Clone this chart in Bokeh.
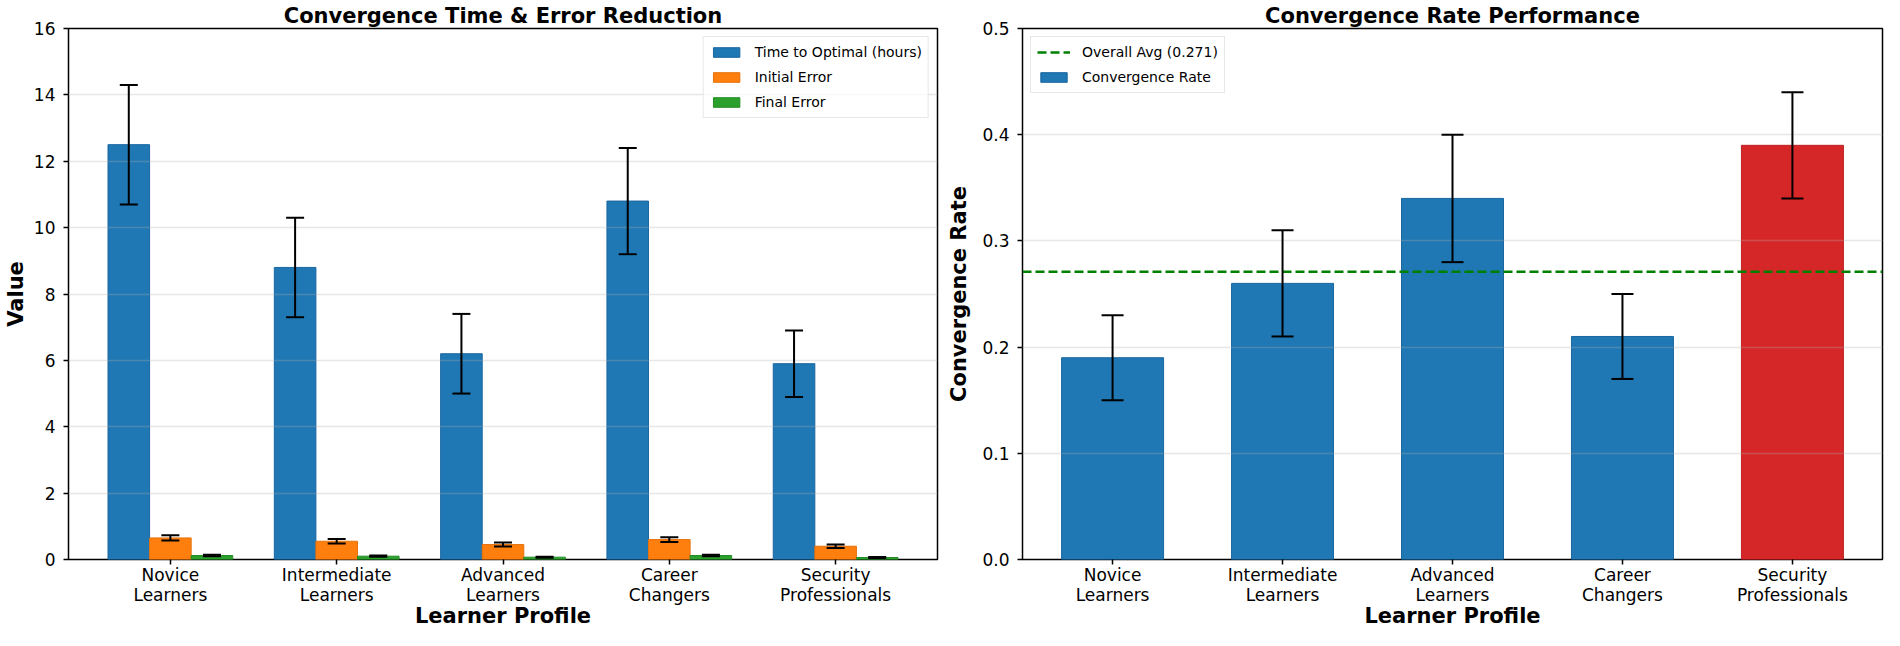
import numpy as np
from bokeh.plotting import figure
from bokeh.layouts import row
from bokeh.models import (ColumnDataSource, Whisker, TeeHead, FixedTicker, Range1d,
                          Legend, LegendItem, CustomJSTickFormatter)
from bokeh.embed import file_html
from bokeh.resources import INLINE

# ---- data ----
profiles = ["Novice\nLearners", "Intermediate\nLearners", "Advanced\nLearners",
            "Career\nChangers", "Security\nProfessionals"]
time_opt = [12.5, 8.8, 6.2, 10.8, 5.9]
time_err = [1.8, 1.5, 1.2, 1.6, 1.0]
initial_err_val = [0.65, 0.55, 0.45, 0.60, 0.40]
initial_err_sd = [0.08, 0.07, 0.06, 0.07, 0.05]
final_err_val = [0.12, 0.10, 0.07, 0.12, 0.06]
final_err_sd = [0.02, 0.02, 0.015, 0.02, 0.015]
conv_rate = [0.19, 0.26, 0.34, 0.21, 0.39]
conv_rate_err = [0.04, 0.05, 0.06, 0.04, 0.05]
overall_avg = 0.271
left_yticks = [0, 2, 4, 6, 8, 10, 12, 14, 16]
right_yticks = [0.0, 0.1, 0.2, 0.3, 0.4, 0.5]

FONT = "DejaVu Sans"
BLUE, ORANGE, GREEN, RED = "#1f77b4", "#ff7f0e", "#2ca02c", "#d62728"
EDGE = {BLUE: "#1a66a0", ORANGE: "#e5720c", GREEN: "#268c26", RED: "#bf2022"}

idx = np.arange(len(profiles))


def style(p, yticks, ylabel, ylabel_standoff):
    p.title.text_font = FONT
    p.title.text_font_size = "21px"
    p.title.text_font_style = "bold"
    p.title.text_color = "black"
    p.title.align = "center"
    p.title.offset = 0
    p.title.standoff = 2
    p.outline_line_color = "black"
    p.outline_line_width = 1.5
    p.outline_line_alpha = 1
    for ax in (p.xaxis[0], p.yaxis[0]):
        ax.axis_line_color = None
        ax.major_tick_line_color = "black"
        ax.major_tick_line_width = 1.5
        ax.major_tick_out = 5
        ax.major_tick_in = 0
        ax.minor_tick_line_color = None
        ax.major_label_text_font = FONT
        ax.major_label_text_font_size = "17px"
        ax.major_label_text_color = "black"
        ax.axis_label_text_font = FONT
        ax.axis_label_text_font_size = "21px"
        ax.axis_label_text_font_style = "bold"
        ax.axis_label_text_color = "black"
    p.xaxis.ticker = FixedTicker(ticks=list(idx))
    p.xaxis.major_label_overrides = {int(i): lab for i, lab in zip(idx, profiles)}
    p.xaxis.major_label_text_line_height = 1.0
    p.xaxis.axis_label = "Learner Profile"
    p.xaxis.axis_label_standoff = -4
    p.xaxis.major_label_standoff = 0
    p.yaxis.ticker = FixedTicker(ticks=yticks)
    p.yaxis.axis_label = ylabel
    p.yaxis.axis_label_standoff = ylabel_standoff
    p.yaxis.major_label_standoff = 8
    p.xgrid.grid_line_color = None
    p.ygrid.grid_line_color = "#b0b0b0"
    p.ygrid.grid_line_alpha = 0.3
    p.ygrid.grid_line_width = 1.5
    p.ygrid.level = "overlay"
    p.background_fill_color = "white"
    p.border_fill_color = "white"


def add_err(p, x, y, e, size):
    y = np.array(y, dtype=float)
    e = np.array(e, dtype=float)
    src = ColumnDataSource(dict(base=x, upper=y + e, lower=y - e))
    w = Whisker(source=src, base="base", upper="upper", lower="lower",
                line_color="black", line_width=2,
                upper_head=TeeHead(size=size, line_width=2, line_color="black"),
                lower_head=TeeHead(size=size, line_width=2, line_color="black"))
    w.level = "overlay"
    p.add_layout(w)


# ---- left chart ----
bw = 0.25
p1 = figure(width=940, height=630, output_backend="svg", toolbar_location=None,
            title="Convergence Time & Error Reduction",
            x_range=Range1d(-0.6125, 4.6125), y_range=Range1d(0, 16),
            min_border_left=60, min_border_right=3, min_border_top=20, min_border_bottom=30)
style(p1, left_yticks, "Value", 3)
p1.yaxis.formatter = CustomJSTickFormatter(code="return tick.toFixed(0);")

series = [(time_opt, time_err, BLUE, -bw, "Time to Optimal (hours)"),
          (initial_err_val, initial_err_sd, ORANGE, 0.0, "Initial Error"),
          (final_err_val, final_err_sd, GREEN, bw, "Final Error")]
items1 = []
for vals, errs, col, off, lab in series:
    xs = idx + off
    r = p1.vbar(x=xs, top=vals, width=bw, bottom=0, fill_color=col,
                line_color=EDGE[col], line_width=1)
    add_err(p1, xs, vals, errs, 18)
    items1.append(LegendItem(label=lab, renderers=[r]))

leg1 = Legend(items=items1, location="top_right")
p1.add_layout(leg1)

# ---- right chart ----
p2 = figure(width=944, height=630, output_backend="svg", toolbar_location=None,
            title="Convergence Rate Performance",
            x_range=Range1d(-0.53, 4.53), y_range=Range1d(0, 0.5),
            min_border_left=82, min_border_right=2, min_border_top=20, min_border_bottom=30)
style(p2, right_yticks, "Convergence Rate", 8)
p2.yaxis.formatter = CustomJSTickFormatter(code="return tick.toFixed(1);")

colors = [BLUE, BLUE, BLUE, BLUE, RED]
src2 = ColumnDataSource(dict(x=idx, top=conv_rate, fc=colors, lc=[EDGE[c] for c in colors]))
r2 = p2.vbar(x="x", top="top", width=0.6, bottom=0, fill_color="fc", line_color="lc",
             line_width=1, source=src2)
add_err(p2, idx, conv_rate, conv_rate_err, 22)

avg_src = ColumnDataSource(dict(x=[-0.53, 4.53], y=[overall_avg, overall_avg]))
r_avg = p2.line(x="x", y="y", source=avg_src, line_color="#008000", line_width=2.5,
                line_dash="9 4")

leg2 = Legend(items=[LegendItem(label=f"Overall Avg ({overall_avg})", renderers=[r_avg]),
                     LegendItem(label="Convergence Rate", renderers=[r2], index=0)],
              location="top_left")
p2.add_layout(leg2)

for lg in (leg1, leg2):
    lg.label_text_font = FONT
    lg.label_text_font_size = "14px"
    lg.label_text_color = "black"
    lg.glyph_width = 33
    lg.glyph_height = 12
    lg.label_standoff = 12
    lg.spacing = 7
    lg.padding = 6
    lg.margin = 8
    lg.label_height = 18
    lg.border_line_color = "#d0d0d0"
    lg.border_line_width = 1
    lg.background_fill_alpha = 0.8

layout = row(p1, p2)
open("out.html", "w").write(file_html(layout, INLINE))
